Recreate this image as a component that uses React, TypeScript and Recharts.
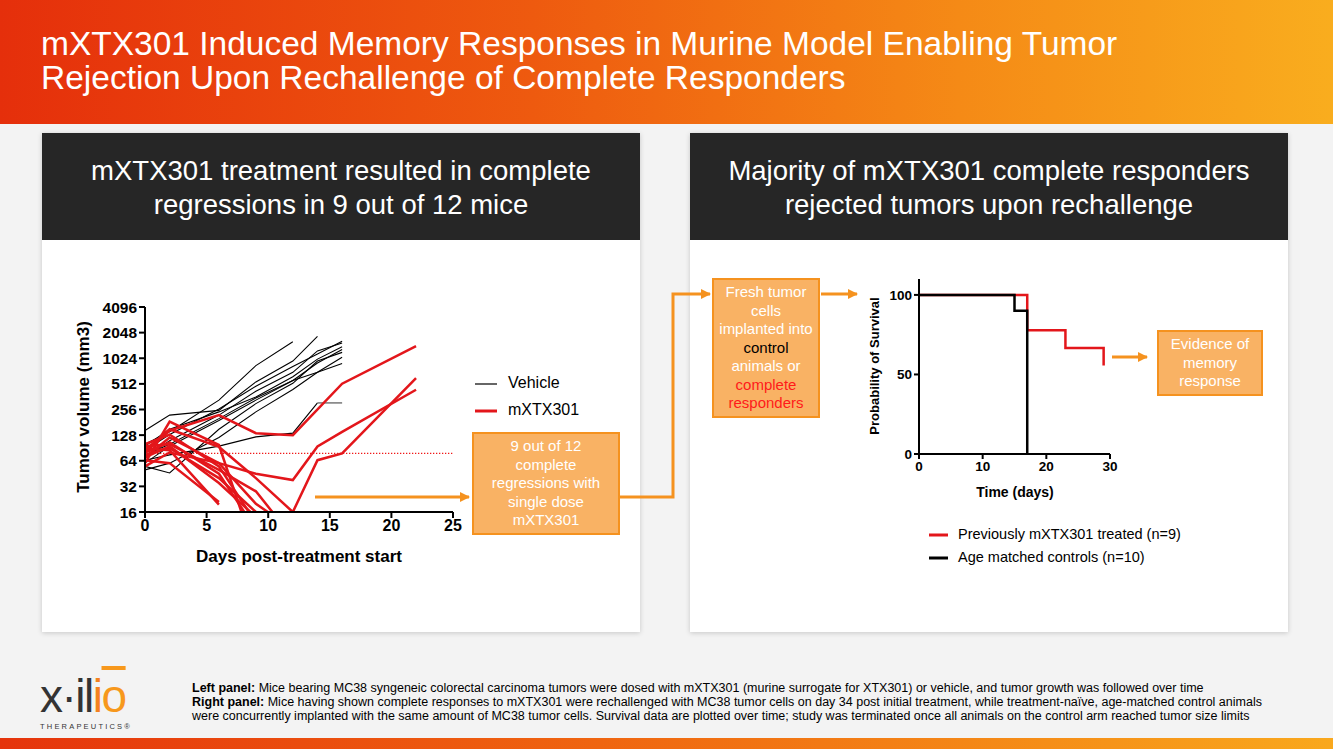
import { LineChart, Line, XAxis, YAxis, ReferenceLine } from "recharts"

const FONT = "'Liberation Sans', Arial, Helvetica, sans-serif"
const RED = "#e3161b"
const ORANGE = "#f5921f"
const BOX_FILL = "#f9b264"

// left panel: tumour volume (mm3) per mouse, measured on these days
const DAYS = [0, 2, 6, 9, 12, 14, 16, 22]

const VEHICLE = [
  [100, 140, 330, 840, 1600, null, null, null],
  [145, 220, 250, 540, 950, 1850, null, null],
  [85, 130, 260, 480, 820, 1150, 1620, null],
  [70, 110, 220, 420, 700, 1250, 1550, null],
  [95, 150, 240, 360, 620, 1000, 1400, null],
  [60, 95, 190, 330, 560, 900, 1300, null],
  [55, 46, 150, 300, 520, 950, 1200, null],
  [50, 60, 120, 240, 440, 700, 1050, null],
  [65, 75, 95, 122, 135, 306, null, null],
  [75, 100, 200, 350, 560, 700, 890, null],
]
// last vehicle mouse, plateau drawn in gray
const VEHICLE_TAIL = [null, null, null, null, null, 306, 306, null]

const TREATED = [
  [80, 145, 220, 135, 128, null, 515, 1420],
  [70, 120, 60, 45, 38, 94, 140, 437],
  [85, 150, 93, 40, 16, 65, 78, 600],
  [60, 185, 98, 5, null, null, null, null],
  [95, 100, 50, 28, 8, null, null, null],
  [75, 90, 40, 16, 10, null, null, null],
  [65, 60, 21, null, null, null, null, null],
  [90, 85, 19.5, null, null, null, null, null],
  [100, 130, 55, 12, null, null, null, null],
  [70, 95, 35, 14, null, null, null, null],
  [80, 105, 45, 10, null, null, null, null],
  [55, 80, 60, 20, 10, null, null, null],
]

const VOLUME_TICKS = [16, 32, 64, 128, 256, 512, 1024, 2048, 4096]
const DAY_TICKS = [0, 5, 10, 15, 20, 25]
const START_VOLUME = 78

// right panel: survival after rechallenge
const TREATED_T = [0, 17, 23, 29]
const TREATED_P = [100, 77.8, 66.7, 55.6]
const CONTROL_T = [0, 15, 17]
const CONTROL_P = [100, 90, 0]
const SURV_TICKS_X = [0, 10, 20, 30]
const SURV_TICKS_Y = [0, 50, 100]

const growthData = DAYS.map((day, i) => {
  const row: Record<string, number | null> = { day }
  VEHICLE.forEach((s, k) => (row[`v${k}`] = s[i]))
  TREATED.forEach((s, k) => (row[`r${k}`] = s[i]))
  row.tail = VEHICLE_TAIL[i]
  return row
})

const treatedSurv = TREATED_T.map((t, i) => ({ t, p: TREATED_P[i] }))
const controlSurv = CONTROL_T.map((t, i) => ({ t, p: CONTROL_P[i] }))

const axisStyle = { stroke: "#000", strokeWidth: 2 }

function GrowthChart() {
  return (
    <LineChart width={410} height={280} data={growthData} margin={{ top: 12, right: 17, bottom: 33, left: 40 }}>
      <XAxis
        dataKey="day"
        type="number"
        domain={[0, 25]}
        ticks={DAY_TICKS}
        axisLine={axisStyle}
        tickLine={axisStyle}
        tickSize={6}
        height={30}
        tick={{ fill: "#000", fontSize: 16, fontWeight: 700, fontFamily: FONT }}
      />
      <YAxis
        scale="log"
        domain={[16, 4096]}
        allowDataOverflow
        ticks={VOLUME_TICKS}
        axisLine={axisStyle}
        tickLine={axisStyle}
        tickSize={6}
        width={45}
        interval={0}
        tick={{ fill: "#000", fontSize: 15.5, fontWeight: 700, fontFamily: FONT }}
      />
      <ReferenceLine y={START_VOLUME} stroke="#f01818" strokeWidth={1.3} strokeDasharray="1.3 1.7" />
      {VEHICLE.map((_, k) => (
        <Line key={`v${k}`} dataKey={`v${k}`} stroke="#000" strokeWidth={1.1} dot={false} isAnimationActive={false} />
      ))}
      <Line dataKey="tail" stroke="#777" strokeWidth={1.5} dot={false} isAnimationActive={false} />
      {TREATED.map((_, k) => (
        <Line
          key={`r${k}`}
          dataKey={`r${k}`}
          stroke={RED}
          strokeWidth={2.5}
          dot={false}
          connectNulls={k === 0}
          isAnimationActive={false}
        />
      ))}
    </LineChart>
  )
}

function SurvivalChart() {
  return (
    <LineChart width={260} height={240} margin={{ top: 9, right: 20, bottom: 31, left: 19 }}>
      <XAxis
        dataKey="t"
        type="number"
        domain={[0, 30]}
        ticks={SURV_TICKS_X}
        axisLine={axisStyle}
        tickLine={axisStyle}
        tickSize={5}
        height={25}
        tick={{ fill: "#000", fontSize: 13.5, fontWeight: 700, fontFamily: FONT }}
      />
      <YAxis
        type="number"
        domain={[0, 110]}
        ticks={SURV_TICKS_Y}
        axisLine={axisStyle}
        tickLine={axisStyle}
        tickSize={5}
        width={30}
        tick={{ fill: "#000", fontSize: 13.5, fontWeight: 700, fontFamily: FONT }}
      />
      <Line data={treatedSurv} dataKey="p" type="stepAfter" stroke={RED} strokeWidth={2.5} dot={false} isAnimationActive={false} />
      <Line data={controlSurv} dataKey="p" type="stepAfter" stroke="#000" strokeWidth={2.5} dot={false} isAnimationActive={false} />
    </LineChart>
  )
}

const boxStyle = (left: number, top: number, width: number, height: number): React.CSSProperties => ({
  position: "absolute",
  left,
  top,
  width,
  height,
  boxSizing: "border-box",
  background: BOX_FILL,
  border: `2px solid ${ORANGE}`,
  color: "#fff",
  fontSize: 15,
  lineHeight: "18.5px",
  textAlign: "center",
  whiteSpace: "nowrap",
  display: "flex",
  flexDirection: "column",
  justifyContent: "center",
})

const cardStyle = (left: number): React.CSSProperties => ({
  position: "absolute",
  left,
  top: 133,
  width: 598,
  height: 499,
  background: "#fff",
  boxShadow: "0 1px 5px rgba(0,0,0,0.18)",
})

const bandStyle: React.CSSProperties = {
  height: 107,
  boxSizing: "border-box",
  paddingTop: 21,
  background: "#262626",
  color: "#fff",
  fontSize: 27.5,
  lineHeight: "34px",
  textAlign: "center",
  whiteSpace: "nowrap",
}

export default function App() {
  return (
    <div
      style={{
        position: "absolute",
        left: 0,
        top: 0,
        width: 1333,
        height: 749,
        overflow: "hidden",
        background: "#f3f3f3",
        fontFamily: FONT,
      }}
    >
      <div
        style={{
          position: "absolute",
          left: 0,
          top: 0,
          width: 1333,
          height: 124,
          background: "linear-gradient(90deg, #e52f0b 0%, #ee5a0f 40%, #f58a16 72%, #f9ad1e 100%)",
        }}
      />
      <div style={{ position: "absolute", left: 41, top: 27, color: "#fff", fontSize: 33.5, lineHeight: "34px", whiteSpace: "nowrap" }}>
        mXTX301 Induced Memory Responses in Murine Model Enabling Tumor
        <br />
        Rejection Upon Rechallenge of Complete Responders
      </div>

      <div style={cardStyle(42)}>
        <div style={bandStyle}>
          mXTX301 treatment resulted in complete
          <br />
          regressions in 9 out of 12 mice
        </div>
      </div>
      <div style={cardStyle(690)}>
        <div style={bandStyle}>
          Majority of mXTX301 complete responders
          <br />
          rejected tumors upon rechallenge
        </div>
      </div>

      <div style={{ position: "absolute", left: 60, top: 295 }}>
        <GrowthChart />
      </div>
      <div style={{ position: "absolute", left: 870, top: 270 }}>
        <SurvivalChart />
      </div>

      <div style={boxStyle(472, 432, 148, 103)}>
        <div>9 out of 12</div>
        <div>complete</div>
        <div>regressions with</div>
        <div>single dose</div>
        <div>mXTX301</div>
      </div>
      <div style={boxStyle(712, 278, 108, 140)}>
        <div>Fresh tumor</div>
        <div>cells</div>
        <div>implanted into</div>
        <div style={{ color: "#000" }}>control</div>
        <div>animals or</div>
        <div style={{ color: "#ff1a1a" }}>complete</div>
        <div style={{ color: "#ff1a1a" }}>responders</div>
      </div>
      <div style={boxStyle(1157, 330, 106, 66)}>
        <div>Evidence of</div>
        <div>memory</div>
        <div>response</div>
      </div>

      <svg width={1333} height={749} style={{ position: "absolute", left: 0, top: 0, pointerEvents: "none" }}>
        <defs>
          <marker id="head" viewBox="0 0 10 10" refX="9" refY="5" markerWidth="3.4" markerHeight="3.4" orient="auto">
            <path d="M0,0 L10,5 L0,10 z" fill={ORANGE} />
          </marker>
        </defs>
        <g stroke={ORANGE} strokeWidth={3} fill="none">
          <line x1={315} y1={497} x2={469} y2={497} markerEnd="url(#head)" />
          <polyline points="620,497 673,497 673,294 710,294" markerEnd="url(#head)" />
          <line x1={821} y1={294} x2={857} y2={294} markerEnd="url(#head)" />
          <line x1={1112} y1={357} x2={1147} y2={357} markerEnd="url(#head)" />
        </g>

        <g fontFamily={FONT} fill="#000">
          <text x={85} y={407} transform="rotate(-90 85 407)" textAnchor="middle" dominantBaseline="middle" fontSize={17} fontWeight={700}>
            Tumor volume (mm3)
          </text>
          <text x={299} y={558} textAnchor="middle" dominantBaseline="middle" fontSize={17} fontWeight={700}>
            Days post-treatment start
          </text>
          <line x1={475} y1={384} x2={497} y2={384} stroke="#000" strokeWidth={1.2} />
          <text x={508} y={384} dominantBaseline="middle" fontSize={16}>Vehicle</text>
          <line x1={475} y1={411} x2={497} y2={411} stroke={RED} strokeWidth={3} />
          <text x={508} y={411} dominantBaseline="middle" fontSize={16}>mXTX301</text>

          <text x={876} y={366} transform="rotate(-90 876 366)" textAnchor="middle" dominantBaseline="middle" fontSize={13} fontWeight={700}>
            Probability of Survival
          </text>
          <text x={1015} y={493} textAnchor="middle" dominantBaseline="middle" fontSize={14} fontWeight={700}>
            Time (days)
          </text>
          <line x1={929} y1={535} x2={948} y2={535} stroke={RED} strokeWidth={3} />
          <text x={958} y={535} dominantBaseline="middle" fontSize={14.5}>Previously mXTX301 treated (n=9)</text>
          <line x1={929} y1={558} x2={948} y2={558} stroke="#000" strokeWidth={3} />
          <text x={958} y={558} dominantBaseline="middle" fontSize={14.5}>Age matched controls (n=10)</text>
        </g>
      </svg>

      <div style={{ position: "absolute", left: 40, top: 672, width: 100 }}>
        <div style={{ fontSize: 46, lineHeight: "48px", color: "#333", letterSpacing: -1.5, whiteSpace: "nowrap" }}>
          x·il<span style={{ color: "#f48120" }}>i</span>
          <span style={{ color: "#f7981c", textDecoration: "overline" }}>o</span>
        </div>
        <div style={{ fontSize: 7.5, letterSpacing: 2.2, color: "#333", marginTop: 2, whiteSpace: "nowrap" }}>THERAPEUTICS®</div>
      </div>

      <div style={{ position: "absolute", left: 192, top: 681, fontSize: 12.5, lineHeight: "14px", color: "#000", whiteSpace: "nowrap" }}>
        <b>Left panel:</b> Mice bearing MC38 syngeneic colorectal carcinoma tumors were dosed with mXTX301 (murine surrogate for XTX301) or vehicle, and tumor growth was followed over time
        <br />
        <b>Right panel:</b> Mice having shown complete responses to mXTX301 were rechallenged with MC38 tumor cells on day 34 post initial treatment, while treatment-naïve, age-matched control animals
        <br />
        were concurrently implanted with the same amount of MC38 tumor cells. Survival data are plotted over time; study was terminated once all animals on the control arm reached tumor size limits
      </div>

      <div
        style={{
          position: "absolute",
          left: 0,
          top: 738,
          width: 1333,
          height: 11,
          background: "linear-gradient(90deg, #e5340c 0%, #ef6510 45%, #f9a81d 100%)",
        }}
      />
    </div>
  )
}
